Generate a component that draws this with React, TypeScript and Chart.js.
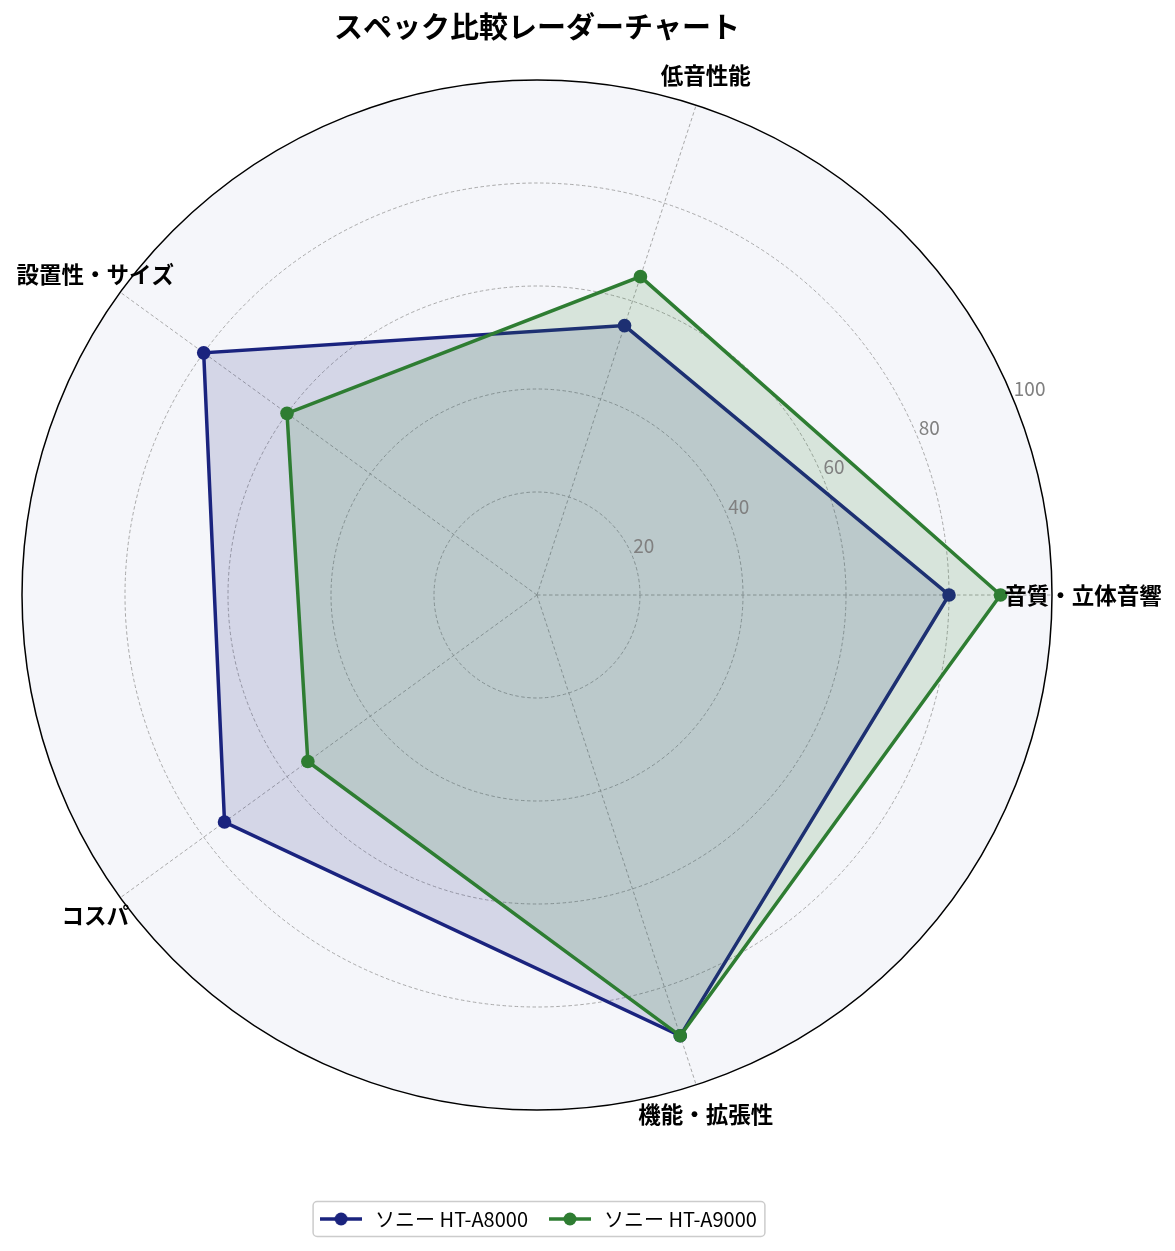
import React, { useEffect, useRef } from "react";
import { Chart, registerables } from "chart.js";

Chart.register(...registerables);

const FONT = '"Noto Sans CJK JP", "Noto Sans", sans-serif';

// axes, counter-clockwise from the right as in the picture
const categories = ["音質・立体音響", "低音性能", "設置性・サイズ", "コスパ", "機能・拡張性"];
const seriesNames = ["ソニー HT-A8000", "ソニー HT-A9000"];
const ht8000Values = [80, 55, 80, 75, 90];
const ht9000Values = [90, 65, 60, 55, 90];
const seriesColors = ["#1a237e", "#2e7d32"];
const seriesFills = ["rgba(26, 35, 126, 0.15)", "rgba(46, 125, 50, 0.15)"];
const radialTicks = [20, 40, 60, 80, 100];

// chart.js walks clockwise, so re-order the axes
const clockwise = [0, 4, 3, 2, 1];

function makeHandle(color: string) {
    const c = document.createElement("canvas");
    c.width = 42;
    c.height = 14;
    const g = c.getContext("2d");
    if (g) {
        g.strokeStyle = color;
        g.lineWidth = 3.5;
        g.beginPath();
        g.moveTo(0, 7);
        g.lineTo(42, 7);
        g.stroke();
        g.fillStyle = color;
        g.beginPath();
        g.arc(21, 7, 6.5, 0, Math.PI * 2);
        g.fill();
    }
    return c;
}

const radarDecor = {
    id: "radarDecor",
    afterDatasetsDraw(chart: any) {
        const scale = chart.scales.r;
        const ctx = chart.ctx;
        ctx.save();
        // radial tick labels at 22.5 deg
        const a = (22.5 * Math.PI) / 180;
        ctx.font = `19px ${FONT}`;
        ctx.fillStyle = "#808080";
        ctx.textAlign = "left";
        ctx.textBaseline = "bottom";
        radialTicks.forEach((v) => {
            const d = scale.getDistanceFromCenterForValue(v);
            ctx.fillText(String(v), scale.xCenter + d * Math.cos(a) + 1, scale.yCenter - d * Math.sin(a));
        });
        // category labels, centred just past the outer ring
        ctx.font = `bold 22.5px ${FONT}`;
        ctx.fillStyle = "#000";
        ctx.textAlign = "center";
        ctx.textBaseline = "middle";
        chart.data.labels.forEach((lab: string, i: number) => {
            const p = scale.getPointPositionForValue(i, 106);
            ctx.fillText(lab, p.x, p.y);
        });
        ctx.restore();
    },
    afterDraw(chart: any) {
        // legend frame
        const boxes = chart.legend?.legendHitBoxes;
        if (!boxes || !boxes.length) return;
        const first = boxes[0];
        const last = boxes[boxes.length - 1];
        const x0 = first.left - 4;
        const x1 = last.left + last.width + 8;
        const cy = first.top + first.height / 2;
        const ctx = chart.ctx;
        ctx.save();
        ctx.strokeStyle = "#cccccc";
        ctx.lineWidth = 1.5;
        ctx.beginPath();
        ctx.roundRect(x0, cy - 17.5, x1 - x0, 35, 4);
        ctx.stroke();
        ctx.restore();
    },
};

const RadarChart: React.FC = () => {
    const canvasRef = useRef<HTMLCanvasElement | null>(null);

    useEffect(() => {
        if (!canvasRef.current) return;
        const handles = seriesColors.map((c) => makeHandle(c));
        const values = [ht8000Values, ht9000Values];

        const chart = new Chart(canvasRef.current, {
            type: "radar",
            data: {
                labels: clockwise.map((i) => categories[i]),
                datasets: seriesNames.map((name, s) => ({
                    label: name,
                    data: clockwise.map((i) => values[s][i]),
                    borderColor: seriesColors[s],
                    backgroundColor: seriesFills[s],
                    borderWidth: 3.5,
                    fill: true,
                    tension: 0,
                    pointRadius: 6.8,
                    pointBorderWidth: 0,
                    pointBackgroundColor: seriesColors[s],
                    order: s === 0 ? 1 : 0,
                })),
            },
            options: {
                responsive: false,
                animation: false,
                layout: { padding: { left: 22, right: 123, top: 0, bottom: 12 } },
                plugins: {
                    title: {
                        display: true,
                        text: "スペック比較レーダーチャート",
                        color: "#000",
                        font: { size: 29, weight: "bold", family: FONT },
                        padding: { top: 10, bottom: 35.2 },
                    },
                    legend: {
                        position: "bottom",
                        title: { display: true, text: "", font: { size: 1 }, padding: { top: 79.5, bottom: 0 } },
                        labels: {
                            usePointStyle: true,
                            pointStyleWidth: 48,
                            padding: 18,
                            color: "#000",
                            font: { size: 20, family: FONT },
                            generateLabels: (c: any) =>
                                c.data.datasets.map((ds: any, i: number) => ({
                                    text: ds.label,
                                    fillStyle: seriesColors[i],
                                    strokeStyle: seriesColors[i],
                                    fontColor: "#000",
                                    lineWidth: 0,
                                    pointStyle: handles[i],
                                    hidden: false,
                                    datasetIndex: i,
                                })),
                        },
                    },
                    tooltip: { enabled: false },
                },
                scales: {
                    r: {
                        min: 0,
                        max: 100,
                        startAngle: 90,
                        backgroundColor: "#f5f6fa",
                        ticks: { display: false, stepSize: 20 },
                        pointLabels: { display: false },
                        grid: {
                            circular: true,
                            color: (ctx: any) => (ctx.tick && ctx.tick.value === 100 ? "#000" : "#a0a0a0"),
                            lineWidth: (ctx: any) => (ctx.tick && ctx.tick.value === 100 ? 1.5 : 0.9),
                        },
                        border: {
                            dash: (ctx: any) => (ctx.tick && ctx.tick.value === 100 ? [] : [3.5, 2.5]),
                        },
                        angleLines: { color: "#a0a0a0", lineWidth: 0.9, borderDash: [3.5, 2.5] },
                    },
                },
            } as any,
            plugins: [radarDecor],
        });

        return () => {
            chart.destroy();
        };
    }, []);

    return <canvas ref={canvasRef} width={1175} height={1251}></canvas>;
};

export default function App() {
    useEffect(() => {
        document.body.style.margin = "0";
    }, []);
    return (
        <div style={{ width: 1175, height: 1251, background: "#fff" }}>
            <RadarChart />
        </div>
    );
}
